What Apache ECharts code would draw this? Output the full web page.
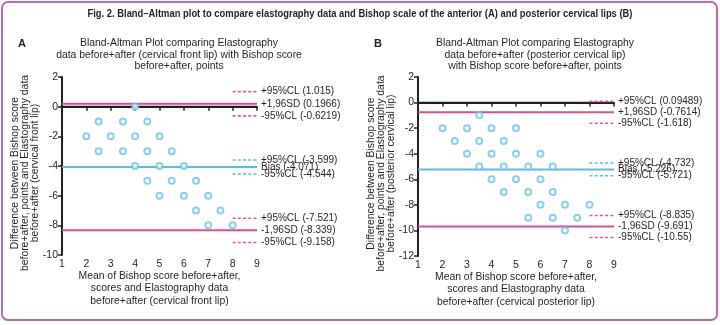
<!DOCTYPE html>
<html>
<head>
<meta charset="utf-8">
<script src="https://cdn.jsdelivr.net/npm/echarts@6/dist/echarts.min.js"></script>
<style>
  html, body { margin: 0; padding: 0; background: #ffffff; }
  #chart { width: 720px; height: 325px; }
</style>
</head>
<body>
<div id="chart"></div>
<script>
// Bland–Altman data: mean of the two methods (x) and their difference (y)
const frontLipMean = [4, 2.5, 3.5, 4.5, 2, 3, 4, 5, 2.5, 3.5, 4.5, 5.5, 4, 5, 6, 4.5, 5.5, 6.5, 5, 6, 7, 6.5, 7.5, 7, 8];
const frontLipDiff = [0, -1, -1, -1, -2, -2, -2, -2, -3, -3, -3, -3, -4, -4, -4, -5, -5, -5, -6, -6, -6, -7, -7, -8, -8];

const posteriorLipMean = [3.5, 2, 3, 4, 5, 2.5, 3.5, 4.5, 3, 4, 5, 6, 3.5, 4.5, 5.5, 6.5, 4, 5, 6, 4.5, 5.5, 6.5, 6, 7, 8, 5.5, 6.5, 7.5, 7];
const posteriorLipDiff = [-1, -2, -2, -2, -2, -3, -3, -3, -4, -4, -4, -4, -5, -5, -5, -5, -6, -6, -6, -7, -7, -7, -8, -8, -8, -9, -9, -9, -10];

// Limits of agreement, bias and their 95% confidence limits (top to bottom)
const limitNames = ['+95%CL', '+1,96SD', '-95%CL', '+95%CL', 'Bias', '-95%CL', '+95%CL', '-1,96SD', '-95%CL'];
const frontLipLimits = [1.015, 0.1966, -0.6219, -3.599, -4.071, -4.544, -7.521, -8.339, -9.158];
const posteriorLipLimits = [0.09489, -0.7614, -1.618, -4.732, -5.226, -5.721, -8.835, -9.691, -10.55];

// Axis ranges
const xRange = [1, 9];
const frontLipYRange = [-10, 2];
const posteriorLipYRange = [-12, 2];

const FIG_TITLE = 'Fig. 2. Bland–Altman plot to compare elastography data and Bishop scale of the anterior (A) and posterior cervical lips (B)';

const FONT = '"Liberation Sans", Arial, sans-serif';
const INK = '#231f20';
const PINK_SOLID = '#d64f9a';
const PINK_DASH = '#e3579f';
const BLUE = '#5cbbe0';
const POINT = '#6cc2e6';

function zip(a, b) { return a.map((v, i) => [v, b[i]]); }

function panelSeries(idx, means, diffs, limits) {
  const out = [];
  const x0 = xRange[0], x1 = xRange[1];
  const labelStyle = (text) => ({
    show: true, formatter: text, distance: 4,
    color: INK, fontSize: 10, fontFamily: FONT
  });
  // zero reference line
  out.push({
    type: 'line', xAxisIndex: idx, yAxisIndex: idx, silent: true,
    data: [[x0, 0], [x1, 0]], showSymbol: false, symbol: 'none',
    lineStyle: { color: INK, width: 1.6 }, z: 2
  });
  limits.forEach((v, i) => {
    const isCL = i % 3 !== 1;
    const isBias = i >= 3 && i <= 5;
    const text = limitNames[i] + ' (' + String(v) + ')';
    if (isCL) {
      // short dashed key segment at the level of each confidence limit
      out.push({
        type: 'line', xAxisIndex: idx, yAxisIndex: idx, silent: true,
        data: [[x1 - 1, v], [x1, v]], showSymbol: false, symbol: 'none',
        lineStyle: { color: isBias ? BLUE : PINK_DASH, width: 1.6, type: [3, 2.2] },
        endLabel: labelStyle(text), z: 3
      });
    } else {
      out.push({
        type: 'line', xAxisIndex: idx, yAxisIndex: idx, silent: true,
        data: [[x0, v], [x1, v]], showSymbol: false, symbol: 'none',
        lineStyle: { color: isBias ? BLUE : PINK_SOLID, width: 2 },
        endLabel: labelStyle(text), z: 3
      });
    }
  });
  out.push({
    type: 'scatter', xAxisIndex: idx, yAxisIndex: idx,
    data: zip(means, diffs), symbol: 'emptyCircle', symbolSize: 6,
    itemStyle: { color: POINT, borderWidth: 1.3 }, z: 5
  });
  return out;
}

function xAxisFor(idx, name) {
  return {
    type: 'value', gridIndex: idx, min: xRange[0], max: xRange[1], interval: 1,
    splitLine: { show: false },
    axisLine: { show: true, lineStyle: { color: INK, width: 2 } },
    axisTick: { show: true, length: 4, lineStyle: { color: INK, width: 1.5 } },
    axisLabel: { color: INK, fontSize: 10.5, fontFamily: FONT, margin: 4 },
    name: name, nameLocation: 'middle', nameGap: 14.5, nameMoveOverlap: false,
    nameTextStyle: { color: INK, fontSize: 10.4, fontFamily: FONT, lineHeight: 12.5, verticalAlign: 'top' }
  };
}

function yAxisFor(idx, range, name) {
  return {
    type: 'value', gridIndex: idx, min: range[0], max: range[1], interval: 2,
    splitLine: { show: false },
    axisLine: { show: true, lineStyle: { color: INK, width: 2 } },
    axisTick: { show: true, length: 4, lineStyle: { color: INK, width: 1.5 } },
    axisLabel: { color: INK, fontSize: 10.5, fontFamily: FONT, margin: 4 },
    name: name, nameLocation: 'middle', nameRotate: 90, nameGap: 22, nameMoveOverlap: false,
    nameTextStyle: { color: INK, fontSize: 10.4, fontFamily: FONT, lineHeight: 9.8, padding: [0, 14, 0, 0] }
  };
}

// Squeeze the bold figure caption horizontally to a condensed width
function captionScale(text, targetWidth) {
  const ctx = document.createElement('canvas').getContext('2d');
  ctx.font = 'bold 11px "Liberation Sans"';
  return targetWidth / ctx.measureText(text).width;
}

const chart = echarts.init(document.getElementById('chart'), null, { renderer: 'canvas' });

chart.setOption({
  animation: false,
  backgroundColor: '#ffffff',
  title: [
    {
      text: 'A', left: 22, top: 38, textAlign: 'center', padding: 0,
      textStyle: { color: INK, fontSize: 11, fontWeight: 'bold', fontFamily: FONT }
    },
    {
      text: 'B', left: 378, top: 38, textAlign: 'center', padding: 0,
      textStyle: { color: INK, fontSize: 11, fontWeight: 'bold', fontFamily: FONT }
    },
    {
      text: 'Bland-Altman Plot comparing Elastography\ndata before+after (cervical front lip) with Bishop score\nbefore+after, points',
      left: 179, top: 38, textAlign: 'center', padding: 0,
      textStyle: { color: INK, fontSize: 10.4, fontWeight: 'normal', fontFamily: FONT, lineHeight: 11.2 }
    },
    {
      text: 'Bland-Altman Plot comparing Elastography\ndata before+after (posterior cervical lip)\nwith Bishop score before+after, points',
      left: 535, top: 38, textAlign: 'center', padding: 0,
      textStyle: { color: INK, fontSize: 10.4, fontWeight: 'normal', fontFamily: FONT, lineHeight: 11.2 }
    }
  ],
  grid: [
    { left: 62, width: 195, top: 77, height: 178, containLabel: false },
    { left: 418, width: 196, top: 77, height: 179, containLabel: false }
  ],
  xAxis: [
    xAxisFor(0, 'Mean of Bishop score before+after,\nscores and Elastography data\nbefore+after (cervical front lip)'),
    xAxisFor(1, 'Mean of Bishop score before+after,\nscores and Elastography data\nbefore+after (cervical posterior lip)')
  ],
  yAxis: [
    yAxisFor(0, frontLipYRange, 'Difference between Bishop score\nbefore+after, points and Elastography data\nbefore+after (cervical front lip)'),
    yAxisFor(1, posteriorLipYRange, 'Difference between Bishop score\nbefore+after, points and Elastography data\nbefore+after (posterior cervical lip)')
  ],
  series: [
    ...panelSeries(0, frontLipMean, frontLipDiff, frontLipLimits),
    ...panelSeries(1, posteriorLipMean, posteriorLipDiff, posteriorLipLimits)
  ],
  graphic: [
    {
      type: 'text', silent: true, x: 360, y: 14,
      scaleX: captionScale(FIG_TITLE, 545), scaleY: 1.05,
      style: {
        text: FIG_TITLE, fill: INK, fontSize: 11, fontWeight: 'bold',
        fontFamily: '"Liberation Sans"', align: 'center', verticalAlign: 'middle'
      }
    },
    {
      type: 'rect', silent: true, z: 100,
      shape: { x: 2, y: 2, width: 715, height: 318, r: 6 },
      style: { fill: 'none', stroke: '#b36cae', lineWidth: 2 }
    }
  ]
});
</script>
</body>
</html>
